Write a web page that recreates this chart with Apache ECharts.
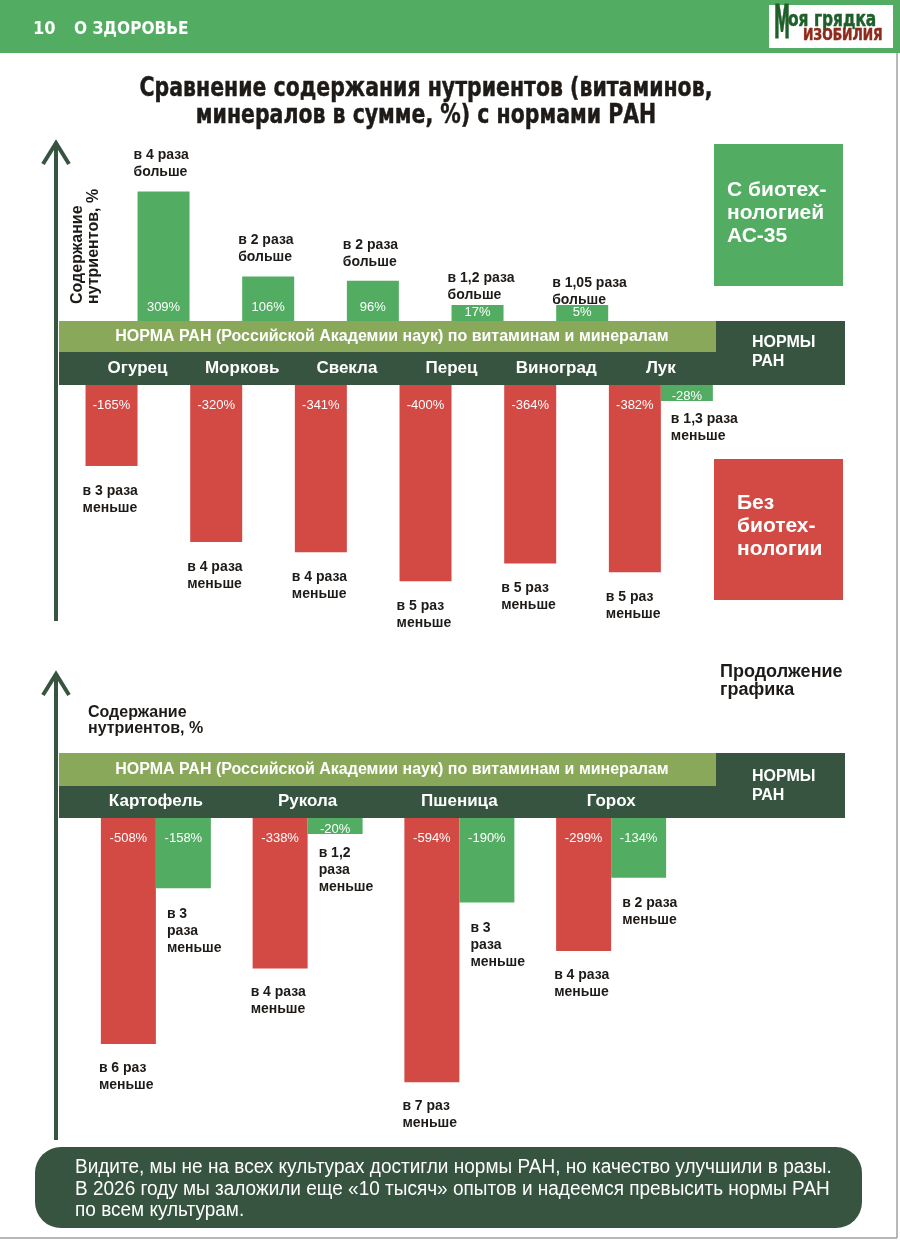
<!DOCTYPE html>
<html>
<head>
<meta charset="utf-8">
<title>Сравнение содержания нутриентов с нормами РАН</title>
<script src="https://cdn.jsdelivr.net/npm/echarts@6.0.0/dist/echarts.min.js"></script>
<style>
    html, body { margin: 0; padding: 0; background: #fff; }
    #main { width: 900px; height: 1240px; }
</style>
</head>
<body>
<div id="main"></div>
<script>
// верхний график
const topCategories = ['Огурец', 'Морковь', 'Свекла', 'Перец', 'Виноград', 'Лук'];
const topGreen = [309, 106, 96, 17, 5, -28];
const topRed = [-165, -320, -341, -400, -364, -382];
const topGreenNotes = ['в 4 раза\nбольше', 'в 2 раза\nбольше', 'в 2 раза\nбольше', 'в 1,2 раза\nбольше', 'в 1,05 раза\nбольше', 'в 1,3 раза\nменьше'];
const topRedNotes = ['в 3 раза\nменьше', 'в 4 раза\nменьше', 'в 4 раза\nменьше', 'в 5 раз\nменьше', 'в 5 раз\nменьше', 'в 5 раз\nменьше'];

// нижний график (продолжение)
const bottomCategories = ['Картофель', 'Рукола', 'Пшеница', 'Горох'];
const bottomRed = [-508, -338, -594, -299];
const bottomGreen = [-158, -20, -190, -134];
const bottomRedNotes = ['в 6 раз\nменьше', 'в 4 раза\nменьше', 'в 7 раз\nменьше', 'в 4 раза\nменьше'];
const bottomGreenNotes = ['в 3\nраза\nменьше', 'в 1,2\nраза\nменьше', 'в 3\nраза\nменьше', 'в 2 раза\nменьше'];

const GREEN = '#52ad63';
const RED = '#d34a45';
const OLIVE = '#8aa85a';
const DARK = '#36543f';
const INK = '#1e1a17';
const FONT = "'Liberation Sans', Arial, sans-serif";
const NARROW = "'DejaVu Sans Condensed', 'Liberation Sans', sans-serif";

const isPos = v => v > 0;
const isNeg = v => v < 0;

function barData (arr, keep, smallDistance) {
    return arr.map(v => {
        if (!keep(v)) return '-';
        if (Math.abs(v) < 30) return { value: v, label: { distance: smallDistance } };
        return v;
    });
}

function barSeries (name, color, arr, keep, grid, up, width) {
    return {
        name: name,
        type: 'bar',
        xAxisIndex: grid,
        yAxisIndex: grid,
        barWidth: width,
        barGap: '0%',
        barMinHeight: 16,
        itemStyle: { color: color },
        label: {
            show: true,
            position: up ? 'insideBottom' : 'insideTop',
            distance: up ? 7 : 14,
            color: '#fff',
            fontSize: 13,
            fontFamily: FONT,
            formatter: p => p.value + '%'
        },
        data: barData(arr, keep, up ? 2 : 5)
    };
}

function noteSeries (arr, notes, keep, grid, up, dx, distance) {
    return {
        type: 'scatter',
        xAxisIndex: grid,
        yAxisIndex: grid,
        symbolSize: 1,
        silent: true,
        itemStyle: { color: 'rgba(0,0,0,0)', opacity: 1 },
        label: {
            show: true,
            position: up ? 'top' : 'bottom',
            align: 'left',
            offset: [dx, 0],
            distance: distance,
            color: INK,
            fontSize: 14,
            fontWeight: 'bold',
            lineHeight: 17,
            fontFamily: FONT,
            formatter: p => notes[p.value[0]]
        },
        data: arr.map((v, i) => [i, v]).filter(p => keep(p[1]))
    };
}

function catAxis (grid, cats, labels) {
    return {
        type: 'category',
        gridIndex: grid,
        data: cats,
        position: 'top',
        z: 10,
        axisLine: { show: false },
        axisTick: { show: false },
        axisLabel: {
            show: labels,
            interval: 0,
            margin: 8,
            color: '#fff',
            fontSize: 17,
            fontWeight: 'bold',
            fontFamily: FONT
        }
    };
}

function valAxis (grid, min, max) {
    return { type: 'value', gridIndex: grid, min: min, max: max, show: false };
}

// текст; f = [размер, жирность, семейство, обводка]; sx — сжатие по ширине
function txt (x, y, text, f, fill, align, valign, lh, sx, rot) {
    const style = {
        x: 0, y: 0, text: text, fill: fill,
        fontSize: f[0], fontWeight: f[1], fontFamily: f[2] || FONT,
        textAlign: align, textVerticalAlign: valign,
        align: align, verticalAlign: valign
    };
    if (f[3]) { style.stroke = fill; style.lineWidth = f[3]; }
    if (lh) style.lineHeight = lh;
    const el = { type: 'text', z: 5, x: x, y: y, style: style };
    if (sx) el.scaleX = sx;
    if (rot) el.rotation = rot;
    return el;
}

function rect (x, y, w, h, fill, r) {
    return { type: 'rect', z: 1, shape: { x: x, y: y, width: w, height: h, r: r || 0 }, style: { fill: fill } };
}

function line (x1, y1, x2, y2, stroke, w) {
    return { type: 'line', z: 3, shape: { x1: x1, y1: y1, x2: x2, y2: y2 }, style: { stroke: stroke, lineWidth: w } };
}

function arrowHead (x, y) {
    return {
        type: 'polyline', z: 3,
        shape: { points: [[x - 13, y + 21], [x, y], [x + 13, y + 21]] },
        style: { stroke: DARK, lineWidth: 4, fill: null }
    };
}

const bandText = 'НОРМА РАН (Российской Академии наук) по витаминам и минералам';

const graphics = [
    // шапка
    rect(0, 0, 900, 53, GREEN),
    txt(33, 29, '10', [18, 'bold', NARROW], '#fff', 'left', 'middle'),
    txt(74, 29, 'О ЗДОРОВЬЕ', [18, 'bold', NARROW], '#fff', 'left', 'middle', 0, 0.95),
    rect(769, 5, 124, 43, '#fff'),
    txt(774, 26, 'М', [47, 'bold', NARROW, 1], '#1f5f2a', 'left', 'middle', 0, 0.38),
    txt(788, 20, 'оя грядка', [22, 'bold', NARROW, 0.5], '#1f5f2a', 'left', 'middle', 0, 0.78),
    txt(803, 36, 'ИЗОБИЛИЯ', [16, 'bold', NARROW, 0.5], '#8e2a1c', 'left', 'middle', 0, 0.86),
    line(897, 53, 897, 1238, '#a0a0a0', 1.5),
    line(0, 1238, 897, 1238, '#a0a0a0', 1.5),

    // заголовок
    txt(426, 103, 'Сравнение содержания нутриентов (витаминов,\nминералов в сумме, %) с нормами РАН',
        [26, 'bold', NARROW, 0.45], INK, 'center', 'middle', 27, 0.875),

    // верхний график: полосы норм и подписи
    rect(59, 321, 657, 31, OLIVE),
    rect(59, 352, 657, 33, DARK),
    rect(716, 321, 129, 64, DARK),
    txt(392, 337, bandText, [16, 'bold'], '#fff', 'center', 'middle'),
    txt(752, 352, 'НОРМЫ\nРАН', [16, 'bold'], '#fff', 'left', 'middle', 19),
    rect(714, 144, 129, 142, GREEN),
    txt(727, 213, 'С биотех-\nнологией\nАС-35', [21, 'bold'], '#fff', 'left', 'middle', 23),
    rect(714, 459, 129, 141, RED),
    txt(737, 526, 'Без\nбиотех-\nнологии', [21, 'bold'], '#fff', 'left', 'middle', 23),
    line(56, 146, 56, 621, DARK, 4),
    arrowHead(56, 143),
    txt(70, 304, 'Содержание\nнутриентов, %', [16, 'bold'], INK, 'left', 'top', 16, 0, Math.PI / 2),

    // нижний график
    rect(59, 753, 657, 33, OLIVE),
    rect(59, 786, 657, 32, DARK),
    rect(716, 753, 129, 65, DARK),
    txt(392, 770, bandText, [16, 'bold'], '#fff', 'center', 'middle'),
    txt(752, 786, 'НОРМЫ\nРАН', [16, 'bold'], '#fff', 'left', 'middle', 19),
    txt(720, 681, 'Продолжение\nграфика', [18, 'bold'], INK, 'left', 'middle', 18),
    txt(88, 721, 'Содержание\nнутриентов, %', [16, 'bold'], INK, 'left', 'middle', 16),
    line(56, 677, 56, 1140, DARK, 4),
    arrowHead(56, 674),

    // итоговая плашка
    rect(35, 1147, 827, 81, DARK, 26),
    txt(75, 1189, 'Видите, мы не на всех культурах достигли нормы РАН, но качество улучшили в разы.\n' +
        'В 2026 году мы заложили еще «10 тысяч» опытов и надеемся превысить нормы РАН\nпо всем культурам.',
        [20, 'normal'], '#fff', 'left', 'middle', 21.5, 0.95)
];

const chart = echarts.init(document.getElementById('main'), null, { renderer: 'canvas' });
chart.setOption({
    animation: false,
    backgroundColor: '#fff',
    grid: [
        { left: 85.2, width: 628, top: 187, height: 134 },
        { left: 85.2, width: 628, top: 385, height: 206 },
        { left: 80, width: 607, top: 818, height: 267 }
    ],
    xAxis: [
        catAxis(0, topCategories, false),
        catAxis(1, topCategories, true),
        catAxis(2, bottomCategories, true)
    ],
    yAxis: [
        valAxis(0, 0, 320),
        valAxis(1, -420, 0),
        valAxis(2, -600, 0)
    ],
    series: [
        barSeries('Без биотехнологии', RED, topRed, isPos, 0, true, 52),
        barSeries('С биотехнологией АС-35', GREEN, topGreen, isPos, 0, true, 52),
        barSeries('Без биотехнологии', RED, topRed, isNeg, 1, false, 52),
        barSeries('С биотехнологией АС-35', GREEN, topGreen, isNeg, 1, false, 52),
        barSeries('Без биотехнологии', RED, bottomRed, isNeg, 2, false, 55),
        barSeries('С биотехнологией АС-35', GREEN, bottomGreen, isNeg, 2, false, 55),
        noteSeries(topGreen, topGreenNotes, isPos, 0, true, -4, 10),
        noteSeries(topRed, topRedNotes, isNeg, 1, false, -55, 16),
        noteSeries(topGreen, topGreenNotes, isNeg, 1, false, 10, 11),
        noteSeries(bottomRed, bottomRedNotes, isNeg, 2, false, -57, 15),
        noteSeries(bottomGreen, bottomGreenNotes, isNeg, 2, false, 11, 17)
    ],
    graphic: { elements: graphics }
});
</script>
</body>
</html>
